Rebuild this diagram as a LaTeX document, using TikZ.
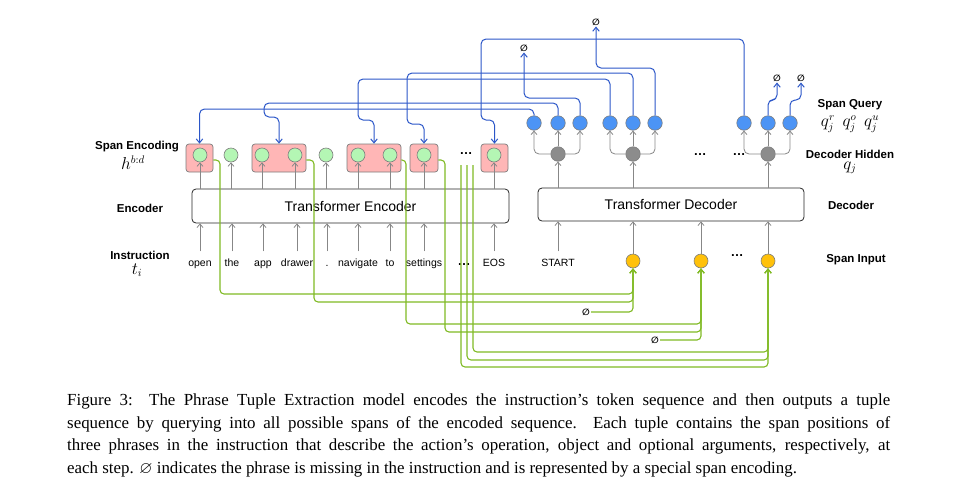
\documentclass[tikz,border=0pt]{standalone}
\usepackage{amssymb}
\usepackage{fontspec}
\setmainfont{Liberation Serif}
\setsansfont{Liberation Sans}
\newfontfamily\dejavu{DejaVu Sans}
\usetikzlibrary{arrows.meta}

\definecolor{boxgray}{RGB}{125,125,125}
\definecolor{arrowgray}{RGB}{135,135,135}
\definecolor{spanpink}{RGB}{255,182,182}
\definecolor{encgreen}{RGB}{180,246,180}
\definecolor{inyellow}{RGB}{255,193,10}
\definecolor{hidgray}{RGB}{140,140,140}
\definecolor{qryblue}{RGB}{76,148,245}
\definecolor{lineblue}{RGB}{43,86,200}
\definecolor{linegreen}{RGB}{128,186,36}

\begin{document}
\begin{tikzpicture}[x=1pt,y=-1pt,
  lbl/.style={font=\sffamily\bfseries\fontsize{11.5}{13}\selectfont},
  mth/.style={font=\fontsize{16}{18}\selectfont},
  tok/.style={font=\sffamily\fontsize{10.5}{12}\selectfont,inner sep=0pt,text height=7.5pt,text depth=2pt,anchor=base},
  tbox/.style={draw=black!85,rounded corners=4pt,line width=0.8pt,font=\sffamily\fontsize{14}{16}\selectfont},
  spanbox/.style={draw=boxgray,fill=spanpink,rounded corners=3pt,minimum height=28pt,inner sep=0pt,line width=0.7pt},
  enc/.style={circle,draw=boxgray,fill=encgreen,minimum size=14pt,inner sep=0pt,line width=0.6pt},
  inp/.style={circle,draw=boxgray,fill=inyellow,minimum size=14pt,inner sep=0pt,line width=0.6pt},
  hid/.style={circle,draw=boxgray,fill=hidgray,minimum size=14.5pt,inner sep=0pt,line width=0.6pt},
  qry/.style={circle,draw=boxgray,fill=qryblue,minimum size=14.5pt,inner sep=0pt,line width=0.6pt},
  nul/.style={font=\dejavu\bfseries\fontsize{9}{9}\selectfont,inner sep=1pt},
  dots/.style={font=\sffamily\bfseries\fontsize{13}{13}\selectfont,inner sep=0pt},
  garrow/.style={draw=arrowgray,line width=0.8pt,-{Straight Barb[length=3.5pt,width=6pt]}},
  qline/.style={draw=lineblue,line width=1pt,rounded corners=5pt,-{Straight Barb[length=4pt,width=6.5pt]}},
  gline/.style={draw=linegreen,line width=1.1pt,rounded corners=4pt,-{Straight Barb[length=4pt,width=6.5pt]}}
]
\useasboundingbox (0,0) rectangle (958,493);

\node[lbl] (lspan) at (137,147) {Span Encoding};
\node[mth] (lh) at (133,163) {$h^{b:d}$};
\node[lbl] (lenc) at (140,208) {Encoder};
\node[lbl] (linst) at (140,255) {Instruction};
\node[mth] (lt) at (137,270) {$t_i$};
\node[lbl] (lquery) at (850,105) {Span Query};
\node[mth] (lq) at (850,124) {$q^r_j\,\;q^o_j\,\;q^u_j$};
\node[lbl] (lhid) at (850,154) {Decoder Hidden};
\node[mth] (lqj) at (850,168) {$q_j$};
\node[lbl] (ldec) at (851,205) {Decoder};
\node[lbl] (linp) at (856,260) {Span Input};

\node[tbox,minimum width=317pt,minimum height=34pt] (encoder) at (350.5,206) {Transformer Encoder};
\node[tbox,minimum width=266pt,minimum height=33pt] (decoder) at (671,204.5) {Transformer Decoder};

\node[spanbox,minimum width=27pt] (s1) at (199.5,158) {};
\node[spanbox,minimum width=54pt] (s2) at (279,158) {};
\node[spanbox,minimum width=54pt] (s3) at (374,158) {};
\node[spanbox,minimum width=28pt] (s4) at (424,158) {};
\node[spanbox,minimum width=27pt] (s5) at (494.5,158) {};

\foreach \x/\w [count=\i] in {200/open,232/the,263/app,297/drawer,327/.,358/navigate,390/to,424/settings,494/EOS} {
  \node[tok] (t\i) at (\x,266) {\w};
  \draw[garrow,shorten <=7pt] (t\i.north) -- (t\i |- encoder.south);
}
\node[dots] (tdots) at (464,265) {\ldots};

\foreach \x [count=\i] in {200,231,262,295,326,358,390,424,494} {
  \node[enc] (e\i) at (\x,155) {};
  \draw[garrow] (e\i |- encoder.north) -- (e\i.south);
}
\node[dots] (edots) at (466,154) {\ldots};

\node[tok] (start) at (558,266) {START};
\draw[garrow,shorten <=7pt] (start.north) -- (start |- decoder.south);
\foreach \x [count=\i] in {633,701,768} {
  \node[inp] (y\i) at (\x,261) {};
  \draw[garrow] (y\i.north) -- (y\i |- decoder.south);
}
\node[dots] (ydots) at (737,256) {\ldots};

\foreach \x [count=\i] in {558,633,768} {
  \node[hid] (h\i) at (\x,154) {};
  \draw[garrow] (h\i |- decoder.north) -- (h\i.south);
}
\node[dots] (hdots1) at (700,155) {\ldots};
\node[dots] (hdots2) at (739,155) {\ldots};

\foreach \x [count=\i] in {534,558,580,610,633,655,744,768,790}
  \node[qry] (q\i) at (\x,123) {};
\foreach \j/\a/\b/\c in {1/1/2/3,2/4/5/6,3/7/8/9} {
  \draw[garrow] (h\j.north) -- (q\b.south);
  \draw[garrow,rounded corners=5pt] (h\j.west) -| (q\a.south);
  \draw[garrow,rounded corners=5pt] (h\j.east) -| (q\c.south);
}

\node[nul] (nul1) at (524,48) {∅};
\node[nul] (nul2) at (596,22) {∅};
\node[nul] (nul3) at (777,78) {∅};
\node[nul] (nul4) at (801,78) {∅};
\node[nul] (nul5) at (586,312) {∅};
\node[nul] (nul6) at (655,340) {∅};

\draw[qline] (q1.north) |- (s1.north |- 0,109) -- (s1.north);
\draw[qline] (q2.north) |- (264,103) |- (s2.north |- 0,117) -- (s2.north);
\draw[qline] (q3.north) |- (524,98) -- (nul1.south);
\draw[qline] (q4.north) |- (358,79) |- (s3.north |- 0,120) -- (s3.north);
\draw[qline] (q5.north) |- (407,73) |- (s4.north |- 0,124) -- (s4.north);
\draw[qline] (q6.north) |- (596,68) -- (nul2.south);
\draw[qline] (q7.north) |- (481,39) |- (s5.north |- 0,120) -- (s5.north);
\draw[qline] (q8.north) |- (777,100) -- (nul3.south);
\draw[qline] (q9.north) |- (801,100) -- (nul4.south);

\draw[gline] (s1.east |- 0,160) -| (220,294) -| (y1.south);
\draw[gline] (s2.east |- 0,160) -| (314,302) -| (y1.south);
\draw[gline] (nul5.east) -| (y1.south);
\draw[gline] (s3.east |- 0,160) -| (406,324) -| (y2.south);
\draw[gline] (s4.east |- 0,160) -| (445,332) -| (y2.south);
\draw[gline] (nul6.east) -| (y2.south);
\foreach \x/\y in {461/367,467/360,473/352}
  \draw[gline] (\x,165) -- (\x,\y) -| (y3.south);

\node[anchor=north west,inner sep=0pt,text width=823pt,align=justify,font=\rmfamily\fontsize{16.9}{22.5}\selectfont] (caption) at (67,394) {Figure 3:\ \ The Phrase Tuple Extraction model encodes the instruction’s token sequence and then outputs a tuple\linebreak sequence by querying into all possible spans of the encoded sequence. Each tuple contains the span positions of\linebreak three phrases in the instruction that describe the action’s operation, object and optional arguments, respectively, at\linebreak each step. $\varnothing$ indicates the phrase is missing in the instruction and is represented by a special span encoding.};
\end{tikzpicture}
\end{document}
